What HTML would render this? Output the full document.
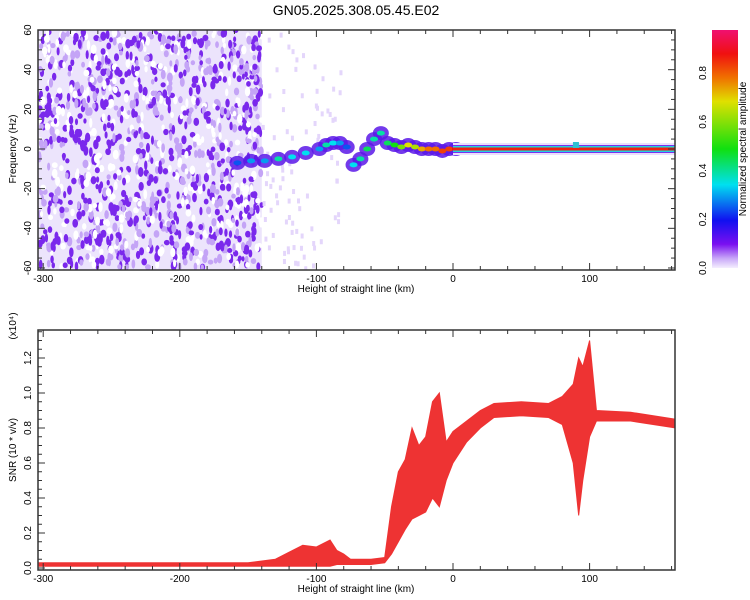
<!DOCTYPE html>
<html><head><meta charset="utf-8">
<style>
body{margin:0;background:#fff;}
svg{display:block;font-family:"Liberation Sans",sans-serif;}
</style></head>
<body>
<svg id="chart" width="750" height="600" viewBox="0 0 750 600">
<defs>
<linearGradient id="cb" x1="0" y1="1" x2="0" y2="0">
<stop offset="0" stop-color="#f4eefe"/>
<stop offset="0.04" stop-color="#c8a8f8"/>
<stop offset="0.1" stop-color="#7a10f0"/>
<stop offset="0.2" stop-color="#1010f0"/>
<stop offset="0.35" stop-color="#00e0f0"/>
<stop offset="0.5" stop-color="#10e010"/>
<stop offset="0.7" stop-color="#e0e000"/>
<stop offset="0.8" stop-color="#f07000"/>
<stop offset="0.9" stop-color="#f01010"/>
<stop offset="1" stop-color="#f01070"/>
</linearGradient>
<clipPath id="c1"><rect x="38" y="30" width="637" height="240"/></clipPath>
<clipPath id="c2"><rect x="38" y="330" width="637" height="240"/></clipPath>
</defs>
<text x="356" y="15" font-size="14" text-anchor="middle">GN05.2025.308.05.45.E02</text>
<g id="gtop" clip-path="url(#c1)"></g>
<g id="gbot" clip-path="url(#c2)"></g>
<g id="gaxes"></g>
<rect x="712" y="30" width="26" height="238" fill="url(#cb)"/>
<text transform="translate(746,149) rotate(-90)" font-size="10" text-anchor="middle">Normalized spectral amplitude</text>
<text transform="translate(16,149) rotate(-90)" font-size="10" text-anchor="middle">Frequency (Hz)</text>
<text x="356" y="292" font-size="10" text-anchor="middle">Height of straight line (km)</text>
<text transform="translate(16,450) rotate(-90)" font-size="10" text-anchor="middle">SNR (10 * v/v)</text>
<text transform="translate(16,326) rotate(-90)" font-size="10" text-anchor="middle">(x10⁴)</text>
<text x="356" y="592" font-size="10" text-anchor="middle">Height of straight line (km)</text>
</svg>
<script>
// SNR envelope data (x10^4)
const heights = [-303,-250,-200,-150,-130,-120,-110,-100,-90,-85,-80,-75,-60,-50,-45,-40,-35,-30,-25,-20,-15,-10,-5,0,10,20,30,50,70,80,88,92,95,100,105,130,163];
const snrLow = [0.01,0.01,0.01,0.01,0.01,0.01,0.01,0.01,0.01,0.02,0.02,0.02,0.02,0.03,0.08,0.15,0.22,0.28,0.3,0.32,0.4,0.35,0.5,0.6,0.72,0.8,0.86,0.87,0.86,0.82,0.6,0.3,0.5,0.75,0.84,0.84,0.8];
const snrHigh = [0.03,0.03,0.03,0.03,0.05,0.09,0.13,0.12,0.16,0.1,0.08,0.05,0.05,0.06,0.35,0.55,0.62,0.8,0.7,0.75,0.95,1.0,0.72,0.78,0.84,0.9,0.94,0.95,0.94,0.98,1.05,1.2,1.15,1.3,0.9,0.89,0.85];
// spectrogram ridge: height (km), freq (Hz), amplitude 0..1
const ridgeH = [-160,-150,-140,-130,-120,-110,-100,-95,-90,-85,-80,-75,-70,-65,-60,-55,-50,-45,-40,-35,-30,-25,-20,-15,-10,-5,0];
const ridgeF = [-7,-6,-6,-5,-4,-2,0,2,3,3,1,-8,-5,0,5,8,3,2,1,2,1,0,0,0,-1,0,0];
const ridgeA = [0.25,0.3,0.3,0.4,0.35,0.35,0.3,0.4,0.35,0.3,0.25,0.35,0.4,0.45,0.4,0.4,0.45,0.5,0.6,0.7,0.65,0.75,0.8,0.8,0.85,0.85,0.9];
const lineH = [0,90,163];
const lineF = [0,0,0];
const xTicks = [-300,-200,-100,0,100];
const topYTicks = [-60,-40,-20,0,20,40,60];
const botYTicks = [0,0.2,0.4,0.6,0.8,1.0,1.2];
const cbTicks = [0,0.2,0.4,0.6,0.8];

const NS='http://www.w3.org/2000/svg';
const xs = h => 453 + (h)*1.366;
const yt = f => 149 - f*1.983;
const yb = v => 568 - v*175;
function mk(tag, attrs, parent){const e=document.createElementNS(NS,tag);for(const k in attrs)e.setAttribute(k,attrs[k]);parent.appendChild(e);return e;}
function col(a){
  const st=[[0,[244,238,254]],[0.04,[200,168,248]],[0.1,[122,16,240]],[0.2,[16,16,240]],[0.35,[0,224,240]],[0.5,[16,224,16]],[0.7,[224,224,0]],[0.8,[240,112,0]],[0.9,[240,16,16]],[1,[240,16,112]]];
  for(let i=1;i<st.length;i++){if(a<=st[i][0]){const t=(a-st[i-1][0])/(st[i][0]-st[i-1][0]);const c=st[i-1][1].map((v,j)=>Math.round(v+(st[i][1][j]-v)*t));return 'rgb('+c+')';}}
  return 'rgb(240,16,112)';
}
const gTop=document.getElementById('gtop'), gBot=document.getElementById('gbot'), gAx=document.getElementById('gaxes');
// background texture
const bg=mk('rect',{x:38,y:30,width:xs(-140)-38,height:240,fill:'#ece4fc'},gTop);


let seed=12345;
const rnd=()=>{seed=(seed*1103515245+12345)%2147483648;return seed/2147483648;};
for(let i=0;i<1300;i++){
  const h=-303+rnd()*163, f=-60+rnd()*120, a=rnd();
  const sp=mk('ellipse',{cx:xs(h),cy:yt(f),rx:1.5+rnd()*1.5,ry:2.5+rnd()*2.5,fill:a>0.55?'#7a28ec':(a>0.25?'#c4a4f6':'#ffffff')},gTop);
  
  
}
for(let i=0;i<90;i++){
  const h=-140+rnd()*60, f=-60+rnd()*120;
  const sp=mk('rect',{x:xs(h),y:yt(f),width:3,height:5,fill:'#e4d6fb'},gTop);
  
  
}
// ridge
for(let i=0;i<ridgeH.length;i++){
  const x=xs(ridgeH[i]),y=yt(ridgeF[i]);
  const halo=mk('ellipse',{cx:x+3,cy:y,rx:8,ry:7,fill:'#5a18e8',opacity:0.85},gTop);
  
  
}
for(let i=0;i<ridgeH.length;i++){
  const x=xs(ridgeH[i]),y=yt(ridgeF[i]);
  const c=mk('ellipse',{cx:x+3,cy:y,rx:4,ry:2.5,fill:col(ridgeA[i])},gTop);
  
  
}
// steady line
const lx0=xs(lineH[0]), lx1=xs(lineH[2]), ly=yt(lineF[0]);
[[12,'#eadffc'],[8,'#7a30f0'],[6,'#20d0e0'],[3,'#f02010']].forEach(([w,c])=>{
  const l=mk('rect',{x:lx0,y:ly-w/2,width:lx1-lx0,height:w,fill:c},gTop);
  
  
});
const bump=mk('rect',{x:xs(lineH[1])-3,y:ly-7,width:6,height:6,fill:'#30c0d0'},gTop);


// SNR band
let pd='M'+heights.map((h,i)=>xs(h)+','+yb(snrHigh[i])).join('L');
for(let i=heights.length-1;i>=0;i--) pd+='L'+xs(heights[i])+','+yb(snrLow[i]);
const band=mk('path',{d:pd+'Z',fill:'#ee3333',stroke:'#ee3333','stroke-width':1},gBot);


// axes frames
[[30,270],[330,570]].forEach(([y0,y1],k)=>{
  const r=mk('rect',{x:38,y:y0,width:637,height:y1-y0,fill:'none',stroke:'#333','stroke-width':1.5},gAx);
  
  
  for(let h=-300;h<=160;h+=20){
    const L=(h%100===0)?7:4;
    mk('line',{x1:xs(h),x2:xs(h),y1:y1,y2:y1-L,stroke:'#333'},gAx);
    mk('line',{x1:xs(h),x2:xs(h),y1:y0,y2:y0+L,stroke:'#333'},gAx);
  }
  xTicks.forEach(h=>{
    const t=mk('text',{x:xs(h),y:y1+12,'font-size':10,'text-anchor':'middle'},gAx);
    t.textContent=h;
    
    
  });
});
for(let f=-60;f<=60;f+=5){const L=f%20===0?7:4;mk('line',{x1:38,x2:38+L,y1:yt(f),y2:yt(f),stroke:'#333'},gAx);mk('line',{x1:675,x2:675-L,y1:yt(f),y2:yt(f),stroke:'#333'},gAx);}
topYTicks.forEach(f=>{
  const t=mk('text',{transform:`translate(31,${yt(f)}) rotate(-90)`,'font-size':10,'text-anchor':'middle'},gAx);
  t.textContent=f;
  
  
});
for(let i=0;i<=27;i++){const v=i*0.05;const L=i%4===0?7:4;mk('line',{x1:38,x2:38+L,y1:yb(v),y2:yb(v),stroke:'#333'},gAx);}
botYTicks.forEach(v=>{
  const t=mk('text',{transform:`translate(31,${yb(v)}) rotate(-90)`,'font-size':10,'text-anchor':'middle'},gAx);
  t.textContent=v.toFixed(1);
  
  
});
cbTicks.forEach(v=>{
  const y=268-v*243.75;
  const t=mk('text',{transform:`translate(706,${y}) rotate(-90)`,'font-size':10,'text-anchor':'middle'},gAx);
  t.textContent=v.toFixed(1);
  
  
});
</script>
</body></html>
